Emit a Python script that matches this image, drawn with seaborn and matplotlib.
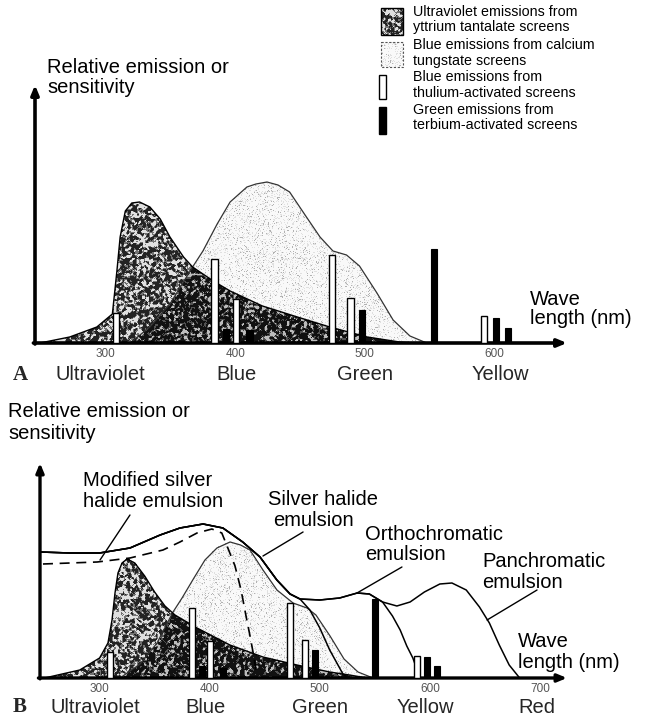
import numpy as np
import matplotlib
matplotlib.use("Agg")
import matplotlib.pyplot as plt
import seaborn as sns
from matplotlib.path import Path
from matplotlib.patches import Rectangle
from matplotlib.transforms import blended_transform_factory

# ---------------- data ----------------
# Panel A: emission spectra of intensifying screens (wavelength nm, relative emission)
uv_a_nm = [249, 272, 293, 305, 308.5, 311, 315, 320, 326, 334, 342, 349.5, 360, 367,
           383, 396, 421, 448, 473, 502, 527, 539]
uv_a_val = [0, 6, 16, 29, 72, 106, 132, 140, 141, 136, 124, 106, 86, 76,
            62, 52, 37, 26, 16, 6, 1, 0]
cawo_a_nm = [318.6, 334, 349.5, 367, 375, 386, 396, 409, 416, 424.5, 433, 442, 455,
             465.5, 475.5, 486, 496, 509.5, 522, 535, 548]
cawo_a_val = [0, 16, 39, 76, 92, 119, 141, 156, 159, 161, 158, 151, 126,
              106, 92, 88, 77, 50, 23, 7, 0]
thulium_a_nm = [308, 384, 400.5, 475, 489, 592]
thulium_a_val = [30, 84, 44, 88, 45, 27]
terbium_a_nm = [393, 411, 498, 553.5, 601.5, 611]
terbium_a_val = [14, 13, 33, 94, 25, 15]

# Panel B: the same emissions together with film sensitivity curves
uv_b_nm = [250, 282, 300, 307.6, 311.3, 314, 316.7, 320.4, 325, 332, 341, 350, 359.4,
           368.5, 388.5, 418.4, 448.4, 479.3, 509, 527, 543]
uv_b_val = [0, 8, 20, 35, 58, 85, 105, 115, 119, 115, 102, 86, 72,
            63, 50, 33, 21, 13, 6, 3, 0]
cawo_b_nm = [318.6, 336.8, 352.2, 366.7, 374.9, 385.7, 395.7, 406.6, 418.5, 428, 436.6,
             448.4, 461.1, 475.7, 488.4, 496.5, 509.3, 522, 534.7, 548.3]
cawo_b_val = [0, 14, 35, 66, 80, 100, 118, 130, 136, 133, 128,
              108, 88, 75, 70, 63, 42, 19, 6, 0]
thulium_b_nm = [309.5, 384, 400.3, 473, 486.6, 588.3]
thulium_b_val = [26, 70, 37, 75, 38, 22]
terbium_b_nm = [393, 412, 495.6, 550, 597.4, 606.4]
terbium_b_val = [12, 10, 28, 79, 21, 12]

# film sensitivity: common blue-sensitive part, then each emulsion's tail
emul_common_nm = [246, 273, 300, 327.6, 355, 373, 394, 412, 430, 445.7, 461, 473, 482]
emul_common_val = [126, 125, 125, 130, 143, 150, 154, 150, 136, 121, 98, 84, 79]
silver_tail_nm = [491, 500, 509, 521, 525.6]
silver_tail_val = [68, 50, 28, 4, 0]
ortho_tail_nm = [500, 518, 534, 545, 557]
ortho_tail_val = [78, 80, 85, 84, 76]
ortho_drop_nm = [566, 573, 579, 584.5, 591]
ortho_drop_val = [62, 48, 32, 20, 0]
pan_tail_nm = [570, 582, 595, 609, 620, 633, 645, 654, 663, 672, 681.5]
pan_tail_val = [72, 76, 86, 94, 95, 88, 71, 55, 33, 13, 0]
modified_nm = [248.6, 297.8, 327.6, 357.6, 373, 388.5, 402, 411, 416.5, 423, 428.5,
               433, 437, 440, 442.5]
modified_val = [114, 116, 120, 128, 136, 145, 149, 145, 130, 112, 88, 62, 40, 22, 5]

ticks_a = [300, 400, 500, 600]
ticks_b = [300, 400, 500, 600, 700]
bands_a = ["Ultraviolet", "Blue", "Green", "Yellow"]
bands_a_nm = [296, 401, 500, 605]
bands_b = ["Ultraviolet", "Blue", "Green", "Yellow", "Red"]
bands_b_nm = [296, 396, 500, 596, 697]

legend_labels = [
    ("Ultraviolet emissions from", "yttrium tantalate screens"),
    ("Blue emissions from calcium", "tungstate screens"),
    ("Blue emissions from", "thulium-activated screens"),
    ("Green emissions from", "terbium-activated screens"),
]

# ---------------- style ----------------
sns.set_theme(style="white")
plt.rcParams["font.family"] = ["Liberation Sans", "DejaVu Sans"]
W, H = 645, 719
fig = plt.figure(figsize=(W / 100, H / 100), dpi=100)
fig.patch.set_facecolor("white")
LABEL_FS = 14.5


def add_axes_px(x0, x1, ybase, ytop):
    return fig.add_axes([x0 / W, 1 - ybase / H, (x1 - x0) / W, (ybase - ytop) / H])


def texture_levels(u, kind):
    if kind == "light":
        return np.where(u < 0.06, 0.70, np.where(u < 0.22, 0.88, 0.98))
    if kind == "dark":
        return np.where(u < 0.40, 0.14, np.where(u < 0.70, 0.45, 0.88))
    return np.where(u < 0.58, 0.07, np.where(u < 0.84, 0.32, 0.74))


def grain(shape, seed, smooth=True):
    rng = np.random.default_rng(seed)
    n = rng.random(shape)
    if not smooth:
        return n
    acc = np.zeros(shape)
    for dy in (-1, 0, 1):
        for dx in (-1, 0, 1):
            w = 2.0 if (dx == 0 and dy == 0) else 1.0
            acc += w * np.roll(np.roll(n, dy, 0), dx, 1)
    return acc.ravel().argsort().argsort().reshape(shape) / acc.size


def screen_fill(ax, nx, ny, uv_nm, uv_val, ca_nm, ca_val, seed):
    x0, x1 = ax.get_xlim()
    y0, y1 = ax.get_ylim()
    xs = x0 + (np.arange(nx) + 0.5) * (x1 - x0) / nx
    ys = y0 + (np.arange(ny) + 0.5) * (y1 - y0) / ny
    gx, gy = np.meshgrid(xs, ys)
    pts = np.column_stack([gx.ravel(), gy.ravel()])

    def inside(nm, val):
        verts = list(zip(nm, val)) + [(nm[-1], 0), (nm[0], 0)]
        return Path(verts).contains_points(pts).reshape(ny, nx)

    in_uv = inside(uv_nm, uv_val)
    in_ca = inside(ca_nm, ca_val)
    u = grain((ny, nx), seed)
    fine = grain((ny, nx), seed + 1, smooth=False)
    grey = np.ones((ny, nx))
    grey = np.where(in_ca & ~in_uv, texture_levels(fine, "light"), grey)
    grey = np.where(in_uv & ~in_ca, texture_levels(u, "dark"), grey)
    grey = np.where(in_uv & in_ca, texture_levels(u, "both"), grey)
    alpha = (in_uv | in_ca).astype(float)
    ax.imshow(np.dstack([grey, grey, grey, alpha]), extent=(x0, x1, y0, y1),
              origin="lower", aspect="auto", interpolation="nearest", zorder=1)
    ax.set_xlim(x0, x1)
    ax.set_ylim(y0, y1)


def axis_arrows(ax, lw):
    kw = dict(arrowstyle="-|>,head_length=0.6,head_width=0.25", lw=lw, color="black",
              shrinkA=0, shrinkB=0, mutation_scale=9)
    ax.annotate("", xy=(0, 1), xytext=(0, -0.004), xycoords="axes fraction",
                arrowprops=kw, annotation_clip=False)
    ax.annotate("", xy=(1, 0), xytext=(-0.003, 0), xycoords="axes fraction",
                arrowprops=kw, annotation_clip=False)


def base_axes(ax, xlim, ymax, ticks):
    ax.set_xlim(*xlim)
    ax.set_ylim(0, ymax)
    sns.despine(ax=ax, left=True, bottom=True)
    ax.set_facecolor((1, 1, 1, 0))
    ax.set_yticks([])
    ax.set_xticks(ticks)
    ax.set_xticklabels([str(t) for t in ticks], fontsize=8.5, color="#555555")
    ax.tick_params(axis="x", length=0, pad=3.5)
    ax.grid(False)
    ax.set_xlabel("")
    ax.set_ylabel("")


def draw_line(ax, nm, val, lw=1.0, color="black", **kw):
    sns.lineplot(x=nm, y=val, ax=ax, color=color, lw=lw, sort=False,
                 estimator=None, legend=False, zorder=3, **kw)


def draw_bars(ax, t_nm, t_val, b_nm, b_val, width):
    ax.bar(t_nm, t_val, width=width, color="white", edgecolor="black", lw=1.0, zorder=4)
    ax.bar(b_nm, b_val, width=width, color="black", edgecolor="black", lw=0.8, zorder=4)


# ---------------- panel A ----------------
axA = add_axes_px(35, 567, 343, 85)
base_axes(axA, (245.2, 656.4), 258, ticks_a)
screen_fill(axA, 532, 258, uv_a_nm, uv_a_val, cawo_a_nm, cawo_a_val, seed=3)
draw_line(axA, cawo_a_nm, cawo_a_val, lw=0.9, color="#333333")
draw_line(axA, uv_a_nm, uv_a_val, lw=1.0)
draw_bars(axA, thulium_a_nm, thulium_a_val, terbium_a_nm, terbium_a_val, 4.8)
axis_arrows(axA, 2.6)

# ---------------- panel B ----------------
axB = add_axes_px(40, 567, 678, 463)
base_axes(axB, (245.9, 724.5), 215, ticks_b)
screen_fill(axB, 527, 215, uv_b_nm, uv_b_val, cawo_b_nm, cawo_b_val, seed=11)
draw_line(axB, cawo_b_nm, cawo_b_val, lw=0.9, color="#333333")
draw_line(axB, uv_b_nm, uv_b_val, lw=1.0)
draw_line(axB, emul_common_nm + silver_tail_nm, emul_common_val + silver_tail_val, lw=1.1)
draw_line(axB, emul_common_nm + ortho_tail_nm + ortho_drop_nm,
          emul_common_val + ortho_tail_val + ortho_drop_val, lw=1.1)
draw_line(axB, emul_common_nm + ortho_tail_nm + pan_tail_nm,
          emul_common_val + ortho_tail_val + pan_tail_val, lw=1.1)
draw_line(axB, modified_nm, modified_val, lw=1.2, linestyle=(0, (6, 4)))
draw_bars(axB, thulium_b_nm, thulium_b_val, terbium_b_nm, terbium_b_val, 5.2)
axis_arrows(axB, 2.4)

# pointers from the emulsion labels to their curves
pointer = dict(arrowstyle="-", lw=1.0, color="black", shrinkA=0, shrinkB=0)
for tip, tail in [((300.4, 118), (327.6, 163)), ((448.4, 122), (484.8, 146)),
                  ((533.8, 85), (574.6, 111)), ((651.9, 58), (697.3, 88))]:
    axB.annotate("", xy=tip, xytext=tail, arrowprops=pointer, annotation_clip=False)

# ---------------- text layer (pixel coordinates) ----------------
ov = fig.add_axes([0, 0, 1, 1])
ov.set_xlim(0, W)
ov.set_ylim(H, 0)
ov.axis("off")
ov.patch.set_alpha(0)


def line_text(x, y, s, fs=LABEL_FS, **kw):
    ov.text(x, y, s, fontsize=fs, va="baseline", ha=kw.pop("ha", "left"), color="black", **kw)


# axis titles
line_text(47, 73, "Relative emission or")
line_text(47, 93, "sensitivity")
line_text(8, 417, "Relative emission or")
line_text(8, 439, "sensitivity")
line_text(530, 305, "Wave")
line_text(530, 324, "length (nm)")
line_text(518, 647, "Wave")
line_text(518, 668, "length (nm)")

# spectral bands under each axis
tA = blended_transform_factory(axA.transData, ov.transData)
for name, nm in zip(bands_a, bands_a_nm):
    ov.text(nm, 380, name, transform=tA, fontsize=LABEL_FS, ha="center", va="baseline")
tB = blended_transform_factory(axB.transData, ov.transData)
for name, nm in zip(bands_b, bands_b_nm):
    ov.text(nm, 713, name, transform=tB, fontsize=LABEL_FS, ha="center", va="baseline")
ov.text(13, 380, "A", fontsize=15, fontweight="bold", va="baseline",
        family=["Liberation Serif", "DejaVu Serif"])
ov.text(13, 712, "B", fontsize=15, fontweight="bold", va="baseline",
        family=["Liberation Serif", "DejaVu Serif"])

# emulsion labels
line_text(83, 486, "Modified silver")
line_text(83, 507, "halide emulsion")
line_text(268, 505, "Silver halide")
line_text(273, 526, "emulsion")
line_text(365, 540, "Orthochromatic")
line_text(365, 560, "emulsion")
line_text(482, 567, "Panchromatic")
line_text(482, 588, "emulsion")

# legend
sw_dark = texture_levels(grain((27, 22), 5), "dark")
ov.imshow(np.dstack([sw_dark] * 3), extent=(381, 403, 35, 8), origin="upper",
          interpolation="nearest", aspect="auto", zorder=2)
ov.add_patch(Rectangle((381, 8), 22, 27, fill=False, lw=1.0, ec="black", zorder=3))
sw_light = texture_levels(grain((25, 22), 9, smooth=False), "light")
ov.imshow(np.dstack([sw_light] * 3), extent=(381, 403, 67, 42), origin="upper",
          interpolation="nearest", aspect="auto", zorder=2)
ov.add_patch(Rectangle((381, 42), 22, 25, fill=False, lw=0.8, ec="#555555",
                       ls=(0, (2, 1.5)), zorder=3))
ov.add_patch(Rectangle((379, 75), 7, 24, fc="white", lw=1.0, ec="black", zorder=3))
ov.add_patch(Rectangle((379, 107), 7, 27, fc="black", lw=1.0, ec="black", zorder=3))
ov.set_xlim(0, W)
ov.set_ylim(H, 0)

baselines = [16, 31, 49, 65, 81, 97, 114, 129]
for i, (l1, l2) in enumerate(legend_labels):
    line_text(413, baselines[2 * i], l1, fs=10.3)
    line_text(413, baselines[2 * i + 1], l2, fs=10.3)

fig.savefig("out.png", dpi=100, facecolor="white")
